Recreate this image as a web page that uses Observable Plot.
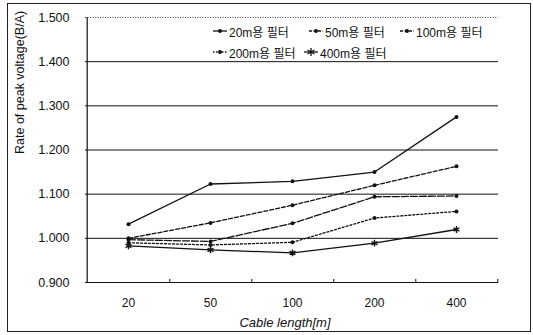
<!DOCTYPE html>
<html><head><meta charset="utf-8">
<script src="https://cdn.jsdelivr.net/npm/d3@7"></script>
<script src="https://cdn.jsdelivr.net/npm/@observablehq/plot@0.6"></script>
<style>
html,body{margin:0;padding:0;background:#fff;}
#wrap{position:relative;width:533px;height:335px;overflow:hidden;font-family:"Liberation Sans",Arial,"Noto Sans CJK KR",sans-serif;}
#border{position:absolute;left:7px;top:3px;width:524px;height:329px;border:1.5px solid #222;box-sizing:border-box;}
#chart{position:absolute;left:0;top:0;}
.lg{position:absolute;display:flex;align-items:center;height:14px;font-size:12px;color:#111;font-family:"Liberation Sans",Arial,"Noto Sans CJK KR",sans-serif;white-space:nowrap;}
.lg svg{margin-right:2px;}
</style>
</head><body>
<div id="wrap"><div id="chart"></div><div id="border"></div></div>
<script>
// ---- data ----
const lengths = ["20", "50", "100", "200", "400"];
const seriesNames = ["20m용 필터", "50m용 필터", "100m용 필터", "200m용 필터", "400m용 필터"];
const f20  = [1.032, 1.123, 1.129, 1.150, 1.275];
const f50  = [1.000, 1.035, 1.075, 1.120, 1.163];
const f100 = [0.997, 0.993, 1.034, 1.094, 1.096];
const f200 = [0.990, 0.985, 0.991, 1.046, 1.061];
const f400 = [0.983, 0.974, 0.967, 0.989, 1.020];
const yTicks = [0.9, 1.0, 1.1, 1.2, 1.3, 1.4, 1.5];
const xTitle = "Cable length[m]";
const yTitle = "Rate of peak voltage(B/A)";

// ---- styles ----
const seriesValues = [f20, f50, f100, f200, f400];
const dashes = [null, "4,2", "7,2", "2,2", null];
const symbols = ["circle", "circle", "circle", "circle", "asterisk"];

const W = 533, H = 335, mL = 85, mR = 35, mT = 17, mB = 53;
const step = (W - mL - mR) / lengths.length;

const rows = seriesNames.map((name, i) => lengths.map((len, j) => ({series: name, len, v: seriesValues[i][j]})));

const marks = [
  Plot.ruleY(yTicks.filter(v => v < 1.45), {stroke: "#111", strokeWidth: 1}),
  Plot.ruleY(yTicks.filter(v => v > 1.45), {stroke: "#444", strokeWidth: 1, strokeDasharray: "1,1.5"}),
  Plot.ruleX([lengths[0]], {dx: -step / 2, stroke: "#111", strokeWidth: 1.2}),
  Plot.link(lengths, {x1: d => d, x2: d => d, y1: () => 0.9, y2: () => 0.908, dx: step / 2, stroke: "#111"}),
];
rows.forEach((r, i) => {
  marks.push(Plot.line(r, {x: "len", y: "v", stroke: "#111", strokeWidth: 1.3, strokeDasharray: dashes[i]}));
  if (symbols[i] === "asterisk") {
    marks.push(Plot.dot(r, {x: "len", y: "v", symbol: "asterisk", r: 3.2, stroke: "#111", strokeWidth: 1.4}));
  } else {
    marks.push(Plot.dot(r, {x: "len", y: "v", r: 2, fill: "#111", stroke: "none"}));
  }
});
marks.push(
  Plot.axisY({ticks: yTicks, tickFormat: d3.format(".3f"), tickSize: 0, tickPadding: 16, label: null, fontSize: 12.5}),
  Plot.axisX({tickSize: 0, tickPadding: 16, label: null, fontSize: 12}),
  Plot.text([xTitle], {text: d => d, frameAnchor: "bottom", dy: 44, dx: -7, fontSize: 13, fontStyle: "italic", fill: "#111"}),
  Plot.text([yTitle], {text: d => d, frameAnchor: "left", rotate: -90, dx: -66, dy: 4, fontSize: 12.5, fill: "#111"})
);

const plot = Plot.plot({
  width: W, height: H,
  marginLeft: mL, marginRight: mR, marginTop: mT, marginBottom: mB,
  style: {fontFamily: "'Liberation Sans', Arial, sans-serif", fontSize: "12px", color: "#111", background: "transparent"},
  x: {type: "point", domain: lengths, padding: 0.5},
  y: {domain: [0.9, 1.5]},
  marks
});
document.getElementById("chart").appendChild(plot);

// ---- legend (HTML overlay inside the plot area) ----
const legendPos = [[213, 24], [309, 24], [400, 24], [213, 45], [304, 45]];
const wrap = document.getElementById("wrap");
seriesNames.forEach((name, i) => {
  const div = document.createElement("div");
  div.className = "lg";
  div.style.left = legendPos[i][0] + "px";
  div.style.top = legendPos[i][1] + "px";
  const svg = d3.create("svg").attr("width", 14).attr("height", 14);
  svg.append("line").attr("x1", 0).attr("x2", 14).attr("y1", 7).attr("y2", 7)
    .attr("stroke", "#111").attr("stroke-width", 1.3)
    .attr("stroke-dasharray", dashes[i] ? (i === 3 ? "1.5,1.5" : "3,1.5") : null);
  if (symbols[i] === "asterisk") {
    svg.append("path").attr("transform", "translate(7,7)")
      .attr("d", d3.symbol(d3.symbolAsterisk, 45)())
      .attr("stroke", "#111").attr("stroke-width", 1.3).attr("fill", "none");
  } else {
    svg.append("circle").attr("cx", 7).attr("cy", 7).attr("r", 2).attr("fill", "#111");
  }
  div.appendChild(svg.node());
  const span = document.createElement("span");
  span.textContent = name;
  div.appendChild(span);
  wrap.appendChild(div);
});
</script>
</body></html>
